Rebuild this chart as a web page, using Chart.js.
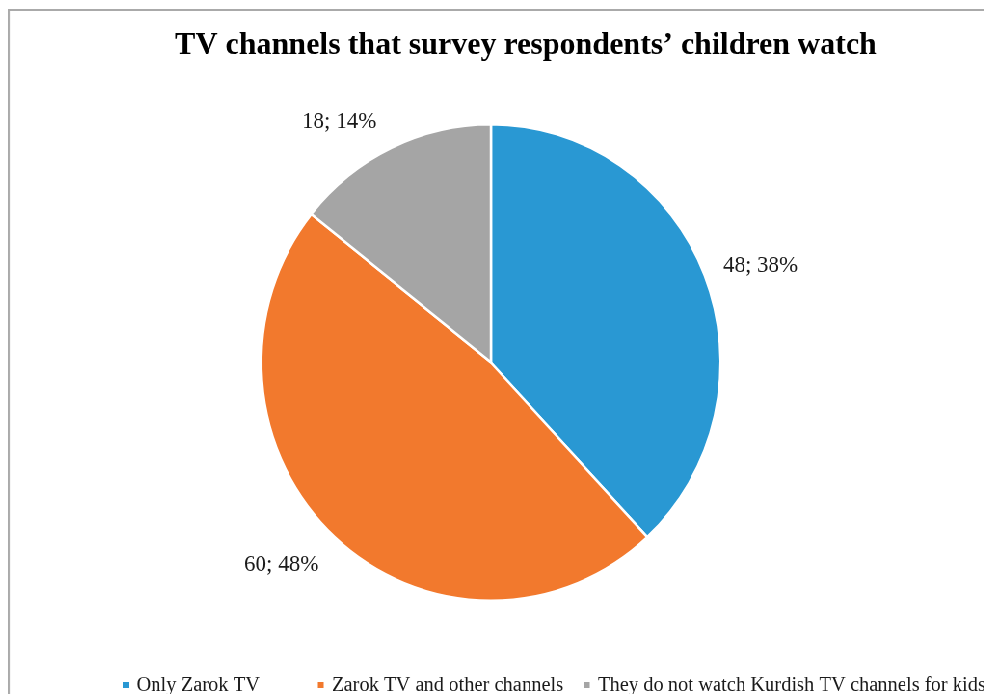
<!DOCTYPE html>
<html>
<head>
<meta charset="utf-8">
<script src="https://cdn.jsdelivr.net/npm/chart.js@4/dist/chart.umd.min.js"></script>
<style>
  html, body { margin: 0; padding: 0; background: #fff; overflow: hidden; width: 984px; height: 694px; }
  #frame {
    position: absolute; left: 8px; top: 9px;
    border-left: 2px solid #aaaaaa; border-top: 2px solid #aaaaaa;
    transform: scaleX(0.964); transform-origin: 0 0;
  }
  canvas { display: block; }
</style>
</head>
<body>
<div id="frame"><canvas id="grafico" width="1040" height="720" style="width:1040px;height:720px"></canvas></div>
<script>
// Dados
const titulo = 'TV channels that survey respondents\u2019 children watch';
const categorias = ['Only Zarok TV', 'Zarok TV and other channels', 'They do not watch Kurdish TV channels for kids'];
const respostas = [48, 60, 18];
const cores = ['#2998d3', '#f2792d', '#a5a5a5'];

// Layout (pixels do canvas)
const fonte = "'Liberation Serif', 'Times New Roman', serif";
const rotuloAjuste = [2.3, 4.2, -7.5];   // graus, desloca o rótulo do meio da fatia
const rotuloRaio = [1.242, 1.246, 1.205];
const legendaX = [117, 319.5, 595.5];

const total = respostas.reduce((a, b) => a + b, 0);

const extras = {
  id: 'extras',
  afterDatasetsDraw(chart) {
    const ctx = chart.ctx;
    const meta = chart.getDatasetMeta(0);
    ctx.save();

    // rótulos das fatias
    ctx.fillStyle = '#1a1a1a';
    ctx.textAlign = 'center';
    ctx.textBaseline = 'middle';
    ctx.font = '23px ' + fonte;
    meta.data.forEach((arc, i) => {
      const p = arc.getProps(['x', 'y', 'startAngle', 'endAngle', 'outerRadius'], true);
      const a = (p.startAngle + p.endAngle) / 2 + rotuloAjuste[i] * Math.PI / 180;
      const r = p.outerRadius * rotuloRaio[i];
      const pct = Math.round(respostas[i] / total * 100);
      ctx.fillText(`${respostas[i]}; ${pct}%`, p.x + Math.cos(a) * r, p.y + Math.sin(a) * r);
    });

    // título
    ctx.fillStyle = '#000';
    ctx.textBaseline = 'alphabetic';
    ctx.font = 'bold 32px ' + fonte;
    ctx.fillText(titulo, 535, 43);

    // legenda
    ctx.textAlign = 'left';
    ctx.font = '20.5px ' + fonte;
    categorias.forEach((c, i) => {
      ctx.fillStyle = cores[i];
      ctx.fillRect(legendaX[i], 671, 6, 6);
      ctx.fillStyle = '#1a1a1a';
      ctx.fillText(c, legendaX[i] + 14.5, 680);
    });
    ctx.restore();
  }
};

const ctx = document.getElementById('grafico').getContext('2d');
const grafico = new Chart(ctx, {
  type: 'pie',
  data: {
    labels: categorias,
    datasets: [{
      data: respostas,
      backgroundColor: cores,
      borderColor: '#ffffff',
      borderWidth: 2.5
    }]
  },
  options: {
    responsive: false,
    animation: false,
    events: [],
    layout: { padding: { left: 259.5, right: 301.5, top: 111.5, bottom: 128.5 } },
    plugins: {
      legend: { display: false },
      title: { display: false },
      tooltip: { enabled: false }
    }
  },
  plugins: [extras]
});
</script>
</body>
</html>
